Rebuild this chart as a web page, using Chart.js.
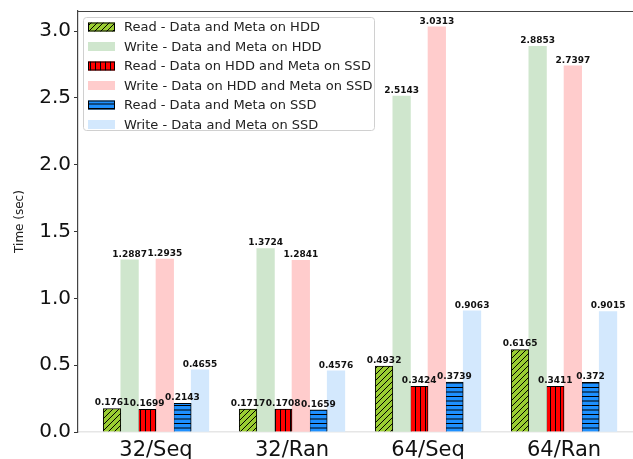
<!DOCTYPE html>
<html>
<head>
<meta charset="utf-8">
<script src="https://cdn.jsdelivr.net/npm/chart.js@4.4.0/dist/chart.umd.min.js"></script>
<style>
  body { margin: 0; background: #fff; }
  canvas { display: block; }
</style>
</head>
<body>
<canvas id="chart" width="633" height="459"></canvas>
<script>
// Data
const categories = ['32/Seq', '32/Ran', '64/Seq', '64/Ran'];
const seriesNames = [
    'Read - Data and Meta on HDD',
    'Write - Data and Meta on HDD',
    'Read - Data on HDD and Meta on SSD',
    'Write - Data on HDD and Meta on SSD',
    'Read - Data and Meta on SSD',
    'Write - Data and Meta on SSD'
];
const readHdd = [0.1761, 0.1717, 0.4932, 0.6165];
const writeHdd = [1.2887, 1.3724, 2.5143, 2.8853];
const readHddMetaSsd = [0.1699, 0.1708, 0.3424, 0.3411];
const writeHddMetaSsd = [1.2935, 1.2841, 3.0313, 2.7397];
const readSsd = [0.2143, 0.1659, 0.3739, 0.372];
const writeSsd = [0.4655, 0.4576, 0.9063, 0.9015];
const yTicks = [0, 0.5, 1.0, 1.5, 2.0, 2.5, 3.0];

// hatch patterns like matplotlib's '//', '|' and '-'
function makeHatch(bg, kind) {
    const c = document.createElement('canvas');
    const size = kind === 'diag' ? 6 : (kind === 'vert' ? 5 : 9);
    c.width = size; c.height = size;
    const g = c.getContext('2d');
    g.fillStyle = bg;
    g.fillRect(0, 0, size, size);
    g.strokeStyle = '#000';
    g.lineWidth = 1;
    g.beginPath();
    if (kind === 'diag') {
        g.moveTo(-1, size + 1); g.lineTo(size + 1, -1);
        g.moveTo(-size - 1, size + 1); g.lineTo(1, -1);
        g.moveTo(size - 1, size + 1); g.lineTo(2 * size + 1, -1);
    } else if (kind === 'vert') {
        g.moveTo(0.5, 0); g.lineTo(0.5, size);
    } else {
        g.moveTo(0, 0.5); g.lineTo(size, 0.5);
        g.moveTo(0, 5); g.lineTo(size, 5);
    }
    g.stroke();
    return document.getElementById('chart').getContext('2d').createPattern(c, 'repeat');
}

const greenHatch = makeHatch('#9acd32', 'diag');
const redHatch = makeHatch('#ff0000', 'vert');
const blueHatch = makeHatch('#1e90ff', 'horiz');

const seriesValues = [readHdd, writeHdd, readHddMetaSsd, writeHddMetaSsd, readSsd, writeSsd];
const fills = [greenHatch, '#cfe6cd', redHatch, '#ffcccc', blueHatch, '#d3e8fd'];
const isRead = [true, false, true, false, true, false];

const datasets = seriesValues.map((vals, i) => ({
    label: seriesNames[i],
    data: vals.map((v, j) => ({ x: j, y: v })),
    backgroundColor: fills[i],
    borderColor: '#000',
    borderWidth: isRead[i] ? 1 : 0,
    barThickness: 17.6
}));

// value labels above bars, top spine, and the legend box
const extras = {
    id: 'extras',
    afterDatasetsDraw(chart) {
        const ctx = chart.ctx;
        ctx.save();
        ctx.font = 'bold 9px "DejaVu Sans"';
        ctx.fillStyle = '#111';
        ctx.textAlign = 'center';
        ctx.textBaseline = 'bottom';
        chart.data.datasets.forEach((ds, i) => {
            chart.getDatasetMeta(i).data.forEach((bar, j) => {
                ctx.fillText(String(seriesValues[i][j]), bar.x, bar.y - 1);
            });
        });
        ctx.restore();
    },
    afterDraw(chart) {
        const ctx = chart.ctx;
        const a = chart.chartArea;
        ctx.save();
        ctx.strokeStyle = '#444';
        ctx.lineWidth = 1.2;
        ctx.beginPath();
        ctx.moveTo(a.left, a.top + 0.5);
        ctx.lineTo(a.right, a.top + 0.5);
        ctx.stroke();

        // legend
        const lx = 83, ly = 17, lw = 291, lh = 113;
        ctx.beginPath();
        ctx.roundRect(lx + 0.5, ly + 0.5, lw, lh, 3);
        ctx.fillStyle = 'rgba(255,255,255,0.8)';
        ctx.fill();
        ctx.strokeStyle = '#d0d0d0';
        ctx.lineWidth = 1;
        ctx.stroke();
        ctx.font = '13px "DejaVu Sans"';
        ctx.textBaseline = 'middle';
        ctx.textAlign = 'left';
        seriesNames.forEach((name, i) => {
            const cy = 27 + i * 19.5;
            ctx.fillStyle = fills[i];
            ctx.fillRect(88, cy - 4.5, 27, 9);
            if (isRead[i]) {
                ctx.strokeStyle = '#000';
                ctx.lineWidth = 1;
                ctx.strokeRect(88.5, cy - 4, 26, 8);
            }
            ctx.fillStyle = '#222';
            ctx.fillText(name, 124, cy + 1);
        });
        ctx.restore();
    }
};

new Chart(document.getElementById('chart'), {
    type: 'bar',
    data: { datasets: datasets },
    options: {
        responsive: false,
        animation: false,
        layout: { padding: { top: 11, left: 0, right: 0, bottom: 0 } },
        plugins: {
            legend: { display: false },
            tooltip: { enabled: false }
        },
        scales: {
            x: {
                type: 'linear',
                offset: false,
                min: -0.5735,
                max: 3.507,
                afterBuildTicks: scale => { scale.ticks = categories.map((c, i) => ({ value: i })); },
                afterFit: scale => { scale.height = 27; },
                ticks: {
                    callback: v => categories[v],
                    font: { family: 'DejaVu Sans', size: 21 },
                    color: '#111',
                    padding: 6,
                    maxRotation: 0,
                    autoSkip: false
                },
                grid: { display: false, drawTicks: false },
                border: { display: true, color: '#e6e6e6', width: 1.5 }
            },
            y: {
                min: 0,
                max: 3.15,
                afterBuildTicks: scale => { scale.ticks = yTicks.map(v => ({ value: v })); },
                afterFit: scale => {
                    scale.width = 78;
                    scale.paddingTop = 0;
                    scale.paddingBottom = 0;
                },
                ticks: {
                    callback: v => v.toFixed(1),
                    font: { family: 'DejaVu Sans', size: 20 },
                    color: '#111',
                    padding: 3
                },
                grid: { drawOnChartArea: false, drawTicks: true, tickLength: 4, color: '#333' },
                border: { display: true, color: '#444', width: 1.2 },
                title: {
                    display: true,
                    text: 'Time (sec)',
                    font: { family: 'DejaVu Sans', size: 12 },
                    color: '#222',
                    padding: { top: 13 }
                }
            }
        }
    },
    plugins: [extras]
});
</script>
</body>
</html>
